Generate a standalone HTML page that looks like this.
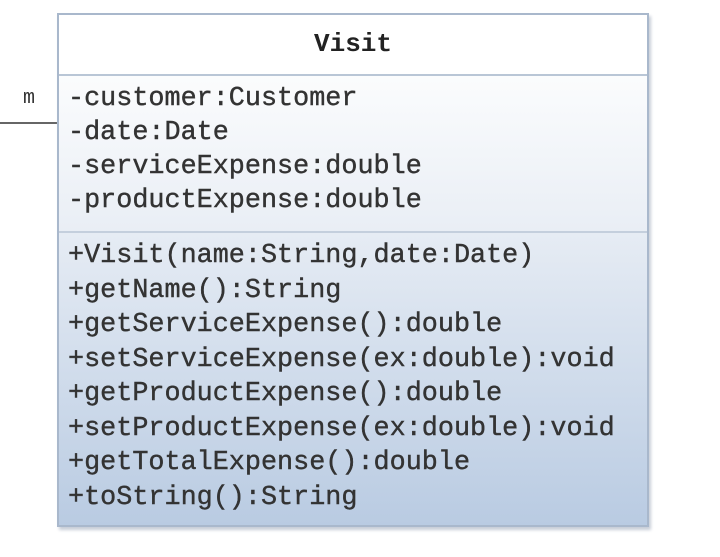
<!DOCTYPE html>
<html><head><style>
body{margin:0;width:720px;height:557px;background:#fff;position:relative;overflow:hidden;font-family:"Liberation Mono",monospace;color:#333}
.box{position:absolute;left:57px;top:13px;width:592px;height:514px;border:2px solid #a9b8cc;box-shadow:2px 3px 3px #c8ced8;box-sizing:border-box}
.hdr{position:absolute;left:0;top:0;width:100%;height:59px;background:#fff;border-bottom:2px solid #b9c6d6;text-align:center;font-weight:bold;font-size:26px;line-height:58px;color:#222}
.att{position:absolute;left:0;top:61px;width:100%;height:155px;background:linear-gradient(#fbfcfd,#e9eef5);border-bottom:3px solid #c4cfdd}
.met{position:absolute;left:0;top:218px;width:100%;bottom:0;background:linear-gradient(#e6ecf4,#b9cbe2)}
.t{position:absolute;left:9px;font-size:26.8px;white-space:pre;line-height:34px;-webkit-text-stroke:0.4px #333}
</style></head><body>
<div style="position:absolute;left:0;top:122px;width:57px;height:2px;background:#666"></div>
<div style="position:absolute;left:23px;top:87px;font-size:20px;color:#333">m</div>
<div class="box">
<div class="hdr">Visit</div>
<div class="att"><div class="t" style="top:6px">-customer:Customer
-date:Date
-serviceExpense:double
-productExpense:double</div></div>
<div class="met"><div class="t" style="top:6px;line-height:34.5px">+Visit(name:String,date:Date)
+getName():String
+getServiceExpense():double
+setServiceExpense(ex:double):void
+getProductExpense():double
+setProductExpense(ex:double):void
+getTotalExpense():double
+toString():String</div></div>
</div>
</body></html>
